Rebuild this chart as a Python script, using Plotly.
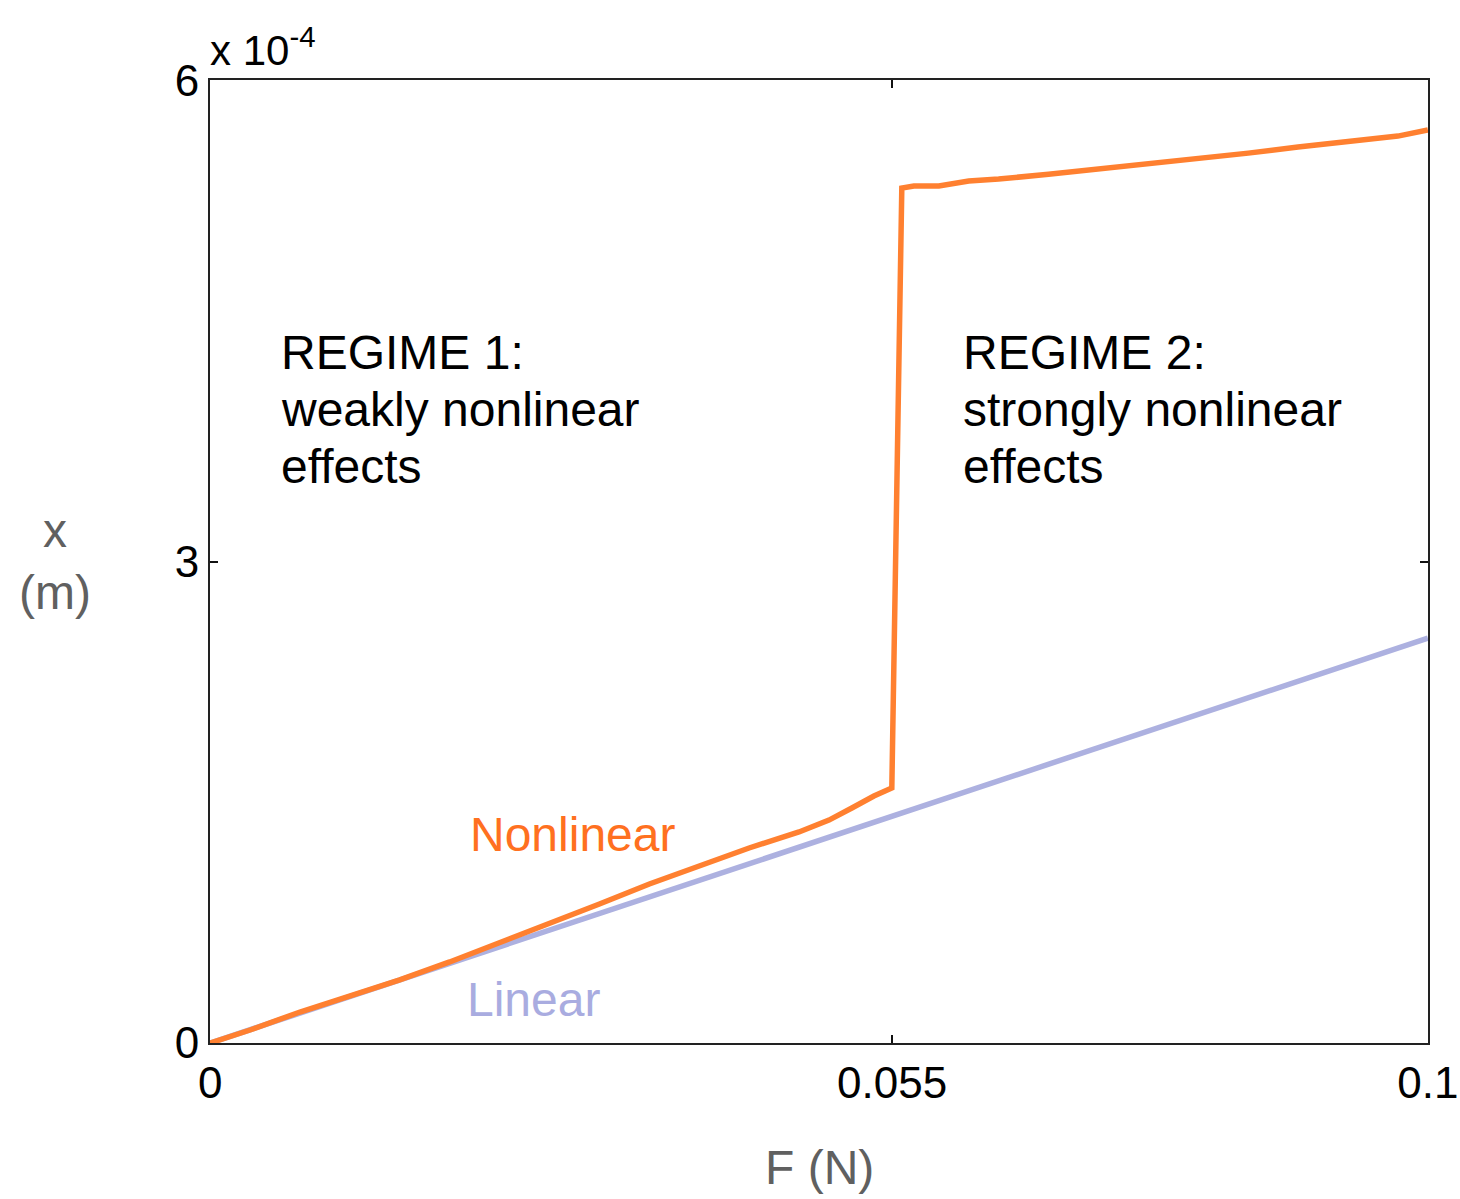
import plotly.graph_objects as go

# Data (F in N, x in m)
force_nonlin = [0, 0.00328, 0.00738, 0.01148, 0.01557, 0.01967, 0.02377, 0.02787,
                0.03197, 0.03607, 0.04016, 0.04426, 0.04836, 0.05082, 0.05270,
                0.05451, 0.05598, 0.05680, 0.05779, 0.05984, 0.06230, 0.06475,
                0.06885, 0.07295, 0.07705, 0.08115, 0.08525, 0.08934, 0.09344,
                0.09754, 0.1]
x_nonlin_e4 = [0, 0.081, 0.193, 0.293, 0.393, 0.505, 0.623, 0.741,
               0.866, 0.991, 1.103, 1.215, 1.315, 1.389, 1.464,
               1.539, 1.589, 5.327, 5.340, 5.340, 5.371, 5.383,
               5.414, 5.445, 5.477, 5.514, 5.545, 5.583, 5.614,
               5.651, 5.689]
force_lin = [0, 0.05, 0.1]
x_lin_e4 = [0, 1.262, 2.523]

x_ticks = [0, 0.056, 0.1]
x_ticktext = ["0", "0.055", "0.1"]
y_ticks_e4 = [0, 3, 6]
y_ticktext = ["0", "3", "6"]

regime1_lines = ["REGIME 1:", "weakly nonlinear", "effects"]
regime2_lines = ["REGIME 2:", "strongly nonlinear", "effects"]

x_nonlin = [v * 1e-4 for v in x_nonlin_e4]
x_lin = [v * 1e-4 for v in x_lin_e4]
y_ticks = [v * 1e-4 for v in y_ticks_e4]

ORANGE = "#FF8030"
BLUE = "#ADB1E0"
FONT = "Liberation Sans, Arial, sans-serif"

fig = go.Figure()
fig.add_trace(go.Scatter(x=force_lin, y=x_lin, mode="lines",
                         line=dict(color=BLUE, width=5.5), showlegend=False, cliponaxis=False))
fig.add_trace(go.Scatter(x=force_nonlin, y=x_nonlin, mode="lines",
                         line=dict(color=ORANGE, width=5.5), showlegend=False, cliponaxis=False))

axis_common = dict(showgrid=False, zeroline=False, showline=True, linecolor="#222222",
                   linewidth=2, mirror="ticks", ticks="inside", ticklen=8,
                   tickcolor="#111111", tickwidth=2, ticklabeloverflow="allow",
                   tickfont=dict(family=FONT, size=44, color="#000000"))

fig.update_xaxes(range=[-0.00001, 0.10001], tickvals=x_ticks, ticktext=x_ticktext, **axis_common)
fig.update_yaxes(range=[-0.00006e-4, 6.0006e-4], tickvals=y_ticks, ticktext=y_ticktext, **axis_common)

ann = []
LINE_GAP = 57
for xpos, lines in ((0.006, regime1_lines), (0.0620, regime2_lines)):
    for i, line in enumerate(lines):
        ann.append(dict(x=xpos, y=4.30e-4, xref="x", yref="y", xanchor="left",
                        yanchor="middle", xshift=-4, yshift=-i * LINE_GAP,
                        text=line, showarrow=False,
                        font=dict(family=FONT, size=48, color="#000000")))
ann.append(dict(x=0.0214, y=1.30e-4, xref="x", yref="y", xanchor="left", yanchor="middle",
                xshift=-3, text="Nonlinear", showarrow=False,
                font=dict(family=FONT, size=48, color="#FF7020")))
ann.append(dict(x=0.0212, y=0.27e-4, xref="x", yref="y", xanchor="left", yanchor="middle",
                xshift=-3, text="Linear", showarrow=False,
                font=dict(family=FONT, size=48, color="#A9ACE0")))
ann.append(dict(x=0.0, y=1.0, xref="paper", yref="paper", xanchor="left", yanchor="bottom",
                xshift=-2, yshift=4,
                text="x 10<sup>-4</sup>", showarrow=False,
                font=dict(family=FONT, size=42, color="#000000")))
ann.append(dict(x=0.5, y=0, xref="paper", yref="paper", xanchor="center", yanchor="middle",
                yshift=-124, text="F (N)", showarrow=False,
                font=dict(family=FONT, size=48, color="#606060")))
ann.append(dict(x=-0.127, y=0.5, xref="paper", yref="paper", xanchor="center", yanchor="middle",
                text="x<br>(m)", showarrow=False,
                font=dict(family=FONT, size=48, color="#606060")))

fig.update_layout(width=1460, height=1199, plot_bgcolor="white", paper_bgcolor="white",
                  margin=dict(l=210, r=32, t=80, b=156, autoexpand=False),
                  annotations=ann, font=dict(family=FONT))

fig.write_html("out.html")
